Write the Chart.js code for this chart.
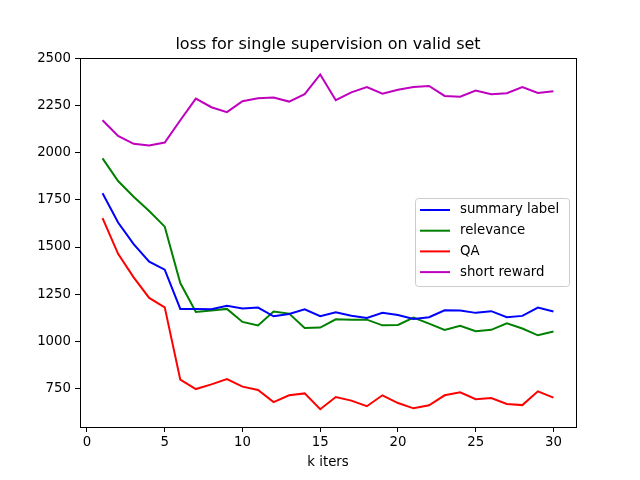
<!DOCTYPE html>
<html>
<head>
<meta charset="utf-8">
<script src="https://cdn.jsdelivr.net/npm/chart.js@4"></script>
<style>
  body { margin: 0; background: white; }
  #wrap { width: 640px; height: 480px; }
</style>
</head>
<body>
<div id="wrap"><canvas id="chart" width="640" height="480"></canvas></div>
<script>
let iters = []
for (let i = 1; i <= 30; i++) iters.push(i)

let summaryLabel = [1785, 1630, 1515, 1422, 1380, 1172, 1172, 1170, 1188, 1174,
  1179, 1133, 1145, 1170, 1133, 1154, 1136, 1124, 1151, 1140,
  1119, 1128, 1165, 1163, 1151, 1160, 1128, 1135, 1179, 1158]
let relevance = [1970, 1850, 1767, 1691, 1608, 1309, 1156, 1163, 1172, 1103,
  1084, 1158, 1147, 1071, 1073, 1117, 1114, 1115, 1085, 1087,
  1126, 1094, 1061, 1082, 1054, 1061, 1096, 1068, 1032, 1052]
let qa = [1653, 1464, 1339, 1230, 1180, 797, 747, 772, 800, 760,
  742, 678, 714, 724, 640, 705, 686, 656, 714, 673,
  645, 661, 714, 730, 693, 700, 668, 662, 735, 702]
let shortReward = [2172, 2089, 2047, 2038, 2054, 2172, 2287, 2241, 2215, 2273,
  2289, 2292, 2271, 2310, 2415, 2278, 2320, 2348, 2313, 2334,
  2348, 2354, 2301, 2297, 2329, 2310, 2315, 2348, 2317, 2326]

let xTicks = [0, 5, 10, 15, 20, 25, 30]
let yTicks = [750, 1000, 1250, 1500, 1750, 2000, 2250, 2500]

const FONT = "'DejaVu Sans', sans-serif"

function toPoints(vals) {
  return vals.map((v, i) => ({ x: iters[i], y: v }))
}

// frame, title and legend drawn like matplotlib
const mplDecor = {
  id: "mplDecor",
  afterDraw(chart) {
    const c = chart.ctx
    const a = chart.chartArea
    c.save()
    c.strokeStyle = "black"
    c.lineWidth = 1
    c.strokeRect(Math.round(a.left) + 0.5, Math.round(a.top) + 0.5,
      Math.round(a.right - a.left), Math.round(a.bottom - a.top))

    c.fillStyle = "black"
    c.font = "16px " + FONT
    c.textAlign = "center"
    c.textBaseline = "alphabetic"
    c.fillText("loss for single supervision on valid set", (a.left + a.right) / 2, 49)

    // legend
    const bx = 415, by = 198, bw = 154, bh = 88
    c.fillStyle = "rgba(255,255,255,0.8)"
    c.strokeStyle = "#cccccc"
    c.beginPath()
    c.roundRect(bx + 0.5, by + 0.5, bw, bh, 3)
    c.fill()
    c.stroke()
    c.font = "13.3px " + FONT
    c.textAlign = "left"
    c.textBaseline = "middle"
    chart.data.datasets.forEach((ds, i) => {
      const y = 210 + i * 20.7
      c.strokeStyle = ds.borderColor
      c.lineWidth = 2
      c.beginPath()
      c.moveTo(420, y)
      c.lineTo(450, y)
      c.stroke()
      c.fillStyle = "black"
      c.fillText(ds.label, 460, y)
    })
    c.restore()
  }
}

new Chart(document.getElementById("chart"), {
  type: "line",
  data: {
    datasets: [
      { label: "summary label", data: toPoints(summaryLabel), borderColor: "#0000ff" },
      { label: "relevance", data: toPoints(relevance), borderColor: "#008000" },
      { label: "QA", data: toPoints(qa), borderColor: "#ff0000" },
      { label: "short reward", data: toPoints(shortReward), borderColor: "#bf00bf" }
    ]
  },
  options: {
    responsive: false,
    animation: false,
    devicePixelRatio: 1,
    elements: {
      point: { radius: 0 },
      line: { borderWidth: 2, tension: 0 }
    },
    layout: { padding: { top: 58, right: 64, left: 0, bottom: 0 } },
    plugins: {
      legend: { display: false },
      title: { display: false },
      tooltip: { enabled: false }
    },
    scales: {
      x: {
        type: "linear",
        min: -0.45,
        max: 31.45,
        afterBuildTicks: (axis) => { axis.ticks = xTicks.map(v => ({ value: v })) },
        afterFit: (axis) => { axis.height = 53 },
        grid: { drawOnChartArea: false, drawTicks: true, tickLength: 5, color: "black" },
        border: { display: true, color: "black" },
        ticks: { color: "black", font: { family: FONT, size: 13.3 }, padding: 3, maxRotation: 0,
          callback: (v) => String(v) },
        title: { display: true, text: "k iters", color: "black", font: { family: FONT, size: 13.3 }, padding: { top: 0, bottom: 9 } }
      },
      y: {
        min: 546,
        max: 2502,
        afterBuildTicks: (axis) => { axis.ticks = yTicks.map(v => ({ value: v })) },
        afterFit: (axis) => { axis.width = 80 },
        grid: { drawOnChartArea: false, drawTicks: true, tickLength: 5, color: "black" },
        border: { display: true, color: "black" },
        ticks: { color: "black", font: { family: FONT, size: 13.3 }, padding: 4,
          callback: (v) => String(v) }
      }
    }
  },
  plugins: [mplDecor]
})
</script>
</body>
</html>
